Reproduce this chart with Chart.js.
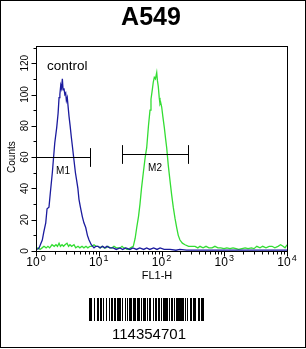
<!DOCTYPE html>
<html><head><meta charset="utf-8">
<script src="https://cdn.jsdelivr.net/npm/chart.js@4/dist/chart.umd.min.js"></script>
<style>html,body{margin:0;padding:0;background:#fff;}#wrap{width:306px;height:349px;}</style>
</head><body><div id="wrap"><canvas id="c" width="306" height="349"></canvas></div>
<script>
// ---- data ----
const chartTitle = "A549";
const sampleLabel = "control";
const xAxisTitle = "FL1-H";
const yAxisTitle = "Counts";
const yTicks = [0, 20, 40, 60, 80, 100, 120];
const xDecades = [0, 1, 2, 3, 4];
const barcodeText = "114354701";

const controlX = [1.05,1.12,1.2,1.26,1.33,1.43,1.5,1.61,1.7,1.82,1.99,2.14,2.25,2.33,2.4,2.48,2.55,2.63,2.7,2.79,2.88,2.97,3.05,3.15,3.36,3.5,3.65,3.85,4.03,4.25,4.45,4.65,4.84,5.1,5.47,5.8,6.2,6.6,7.0,7.6,8.4,9.0,9.7,10.5,11.5,12.5,13.5,15,17,19,21.8,24,27,31.4,35,40,45,52,58,65,75,85,95,110,137,170,196,250,320,410,600,853,1300,2000,2570,4000,6000,10000];
const controlY = [1,2,5,7,12,18,27,28,38,50,69,79,88,98,100,106,104,110,103,104,100,101,96,98,86,80,73,65,58,50,45,40,33,28,22,18,15,10,7,4,2,3,3,2,3,2,3,2,2,1,2,1,2,1,2,1,2,1,2,1,2,1,2,1,1,0.5,1,0.5,0.5,0.5,0.5,0.5,0.5,0.5,0.5,0.5,0.5,0.5];

const sampleX = [1.0,1.08,1.16,1.25,1.34,1.45,1.55,1.65,1.8,1.95,2.08,2.2,2.33,2.45,2.6,2.75,2.9,3.12,3.3,3.48,3.7,4.03,4.3,4.67,5.0,5.41,5.8,6.26,6.7,7.25,7.8,8.4,9.0,9.73,10.5,11.3,12.2,13.0,14,15.1,16.3,17.5,19,20.3,22,23.5,25,26.2,28,29.6,32,35.5,38,40.3,43,45.4,48,51.3,55,58.1,62,65.6,68,71.3,74,76.8,80,83.9,86,88.9,92,94.6,97,100.7,105,110.8,116,121,128,136.6,145,154,164,174.6,185,197,215,237,270,303,342,380,411,460,512,570,638,710,795,880,991,1100,1235,1380,1539,1700,1918,2150,2393,2700,2981,3300,3715,4100,4628,5200,5766,6400,7188,7900,8630,9300,10000];
const sampleY = [1,2,1,2,3,2,3,2,4,3,4,3,5,3,4,3,4,5,3,4,3,4,2,3,2,3,2,3,2,3,3,4,3,3,2,3,2,2,3,2,2,3,2,2,2,3,2,2,1,1,2,3,8,15,22,30,40,50,60,66,80,90,97,103,108,111,110,114,109,105,98,94,95,92,86,79,72,66,55,45,36,28,21,15,10,7,5,4,3,3,3,2,3,2,3,2,2,3,2,2,1.5,2,1.5,2,1.5,1,1.5,2,1.5,2,1.5,3,2,3,2,3,3,2,3,4,3,2,4];

const markerNames = ["M1", "M2"];
const markerStart = [1, 23.5];
const markerEnd = [7.25, 264];
const markerLevel = [60, 61.7];

const barcodeBits = "11010010000110011011001100110110011001101100100110100111001011001110010011101101110010011001110100111011001011101101110111011001011001110101100011101011";

const FONT = '"Liberation Sans", Arial, sans-serif';

const overlay = {
  id: 'overlay',
  afterDraw(chart) {
    const ctx = chart.ctx, xs = chart.scales.x, ys = chart.scales.y, a = chart.chartArea;
    ctx.save();
    ctx.fillStyle = '#000'; ctx.strokeStyle = '#000'; ctx.lineWidth = 1;
    // outer border
    ctx.strokeRect(0.5, 0.5, 305, 347);
    // plot frame
    ctx.strokeRect(Math.round(a.left) + 0.5, Math.round(a.top) + 0.5, Math.round(a.right - a.left), Math.round(a.bottom - a.top));
    const bot = Math.round(a.bottom) + 0.5, lft = Math.round(a.left) + 0.5;
    // y ticks
    ctx.beginPath();
    for (let v = 0; v <= 130; v += 10) {
      const y = Math.round(ys.getPixelForValue(v)) + 0.5;
      const len = (v % 20 === 0) ? 5 : 3;
      ctx.moveTo(lft - len, y); ctx.lineTo(lft, y);
    }
    // x ticks
    for (let d = 0; d < 4; d++) {
      for (let m = 1; m <= 9; m++) {
        const x = Math.round(xs.getPixelForValue(m * Math.pow(10, d))) + 0.5;
        const len = m === 1 ? 5 : 3;
        ctx.moveTo(x, bot); ctx.lineTo(x, bot + len);
      }
    }
    const xe = Math.round(xs.getPixelForValue(10000)) + 0.5;
    ctx.moveTo(xe, bot); ctx.lineTo(xe, bot + 5);
    ctx.stroke();
    // y tick labels rotated
    ctx.font = '10px ' + FONT; ctx.textAlign = 'center'; ctx.textBaseline = 'middle';
    yTicks.forEach(v => {
      const y = ys.getPixelForValue(v);
      ctx.save(); ctx.translate(25, y); ctx.rotate(-Math.PI / 2); ctx.fillText(String(v), 0, 0); ctx.restore();
    });
    // y title
    ctx.font = '10px ' + FONT;
    ctx.save(); ctx.translate(12, ys.getPixelForValue(60)); ctx.rotate(-Math.PI / 2); ctx.fillText(yAxisTitle, 0, 0); ctx.restore();
    // x tick labels with superscript
    ctx.textBaseline = 'alphabetic'; ctx.textAlign = 'left';
    xDecades.forEach(d => {
      const x = xs.getPixelForValue(Math.pow(10, d));
      ctx.font = '12px ' + FONT; const w1 = ctx.measureText('10').width;
      ctx.font = '9px ' + FONT; const w2 = ctx.measureText(String(d)).width;
      const x0 = x - (w1 + w2 + 1) / 2;
      ctx.font = '12px ' + FONT; ctx.fillText('10', x0, 266);
      ctx.font = '9px ' + FONT; ctx.fillText(String(d), x0 + w1 + 1, 261);
    });
    // x title
    ctx.font = '11px ' + FONT; ctx.textAlign = 'center';
    ctx.fillText(xAxisTitle, 157, 279);
    // title
    ctx.font = 'bold 25px ' + FONT; ctx.fillText(chartTitle, 151, 25);
    // control
    ctx.font = '13.5px ' + FONT; ctx.textAlign = 'left';
    ctx.fillText(sampleLabel, 47, 70);
    // markers
    ctx.beginPath();
    markerNames.forEach((n, i) => {
      const x1 = Math.round(xs.getPixelForValue(markerStart[i])) + 0.5;
      const x2 = Math.round(xs.getPixelForValue(markerEnd[i])) + 0.5;
      const y = Math.round(ys.getPixelForValue(markerLevel[i])) + 0.5;
      const h = Math.abs(ys.getPixelForValue(6) - ys.getPixelForValue(0));
      ctx.moveTo(x1, y); ctx.lineTo(x2, y);
      ctx.moveTo(x1, y - h); ctx.lineTo(x1, y + h);
      ctx.moveTo(x2, y - h); ctx.lineTo(x2, y + h);
    });
    ctx.stroke();
    ctx.font = '10px ' + FONT; ctx.textAlign = 'center';
    markerNames.forEach((n, i) => {
      const xm = xs.getPixelForValue(Math.sqrt(markerStart[i] * markerEnd[i]));
      const y = ys.getPixelForValue(markerLevel[i]);
      ctx.fillText(n, xm, y + 17);
    });
    // barcode
    const bx = 89, bw = 115, by = 298, bh = 23;
    const mw = bw / barcodeBits.length;
    for (let i = 0; i < barcodeBits.length; i++) {
      if (barcodeBits[i] === '1') ctx.fillRect(Math.round(bx + i * mw), by, Math.max(1, Math.round(mw)), bh);
    }
    ctx.font = '15px ' + FONT; ctx.textAlign = 'center';
    ctx.fillText(barcodeText, 149, 339);
    ctx.restore();
  }
};

const toPts = (xa, ya) => xa.map((x, i) => ({ x: x, y: ya[i] }));

new Chart(document.getElementById('c'), {
  type: 'line',
  data: {
    datasets: [
      { label: 'control', data: toPts(controlX, controlY), borderColor: '#1b1b9e', borderWidth: 1.3, pointRadius: 0, tension: 0, fill: false },
      { label: 'A549', data: toPts(sampleX, sampleY), borderColor: '#33dd33', borderWidth: 1.3, pointRadius: 0, tension: 0, fill: false }
    ]
  },
  options: {
    responsive: false, animation: false, devicePixelRatio: 1,
    layout: { padding: { left: 36, right: 19, top: 46, bottom: 98 } },
    plugins: { legend: { display: false }, tooltip: { enabled: false }, title: { display: false } },
    scales: {
      x: { type: 'logarithmic', min: 1, max: 10000, display: false },
      y: { type: 'linear', min: 0, max: 131, display: false }
    }
  },
  plugins: [overlay]
});
</script>
</body></html>
